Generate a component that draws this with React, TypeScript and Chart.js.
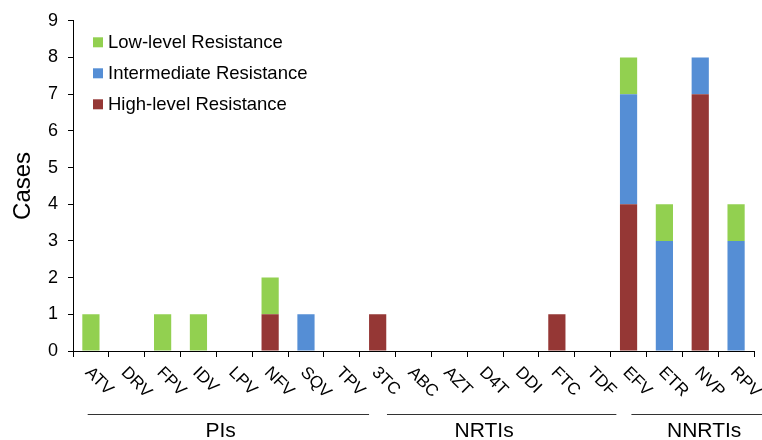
import React, { useEffect, useRef } from 'react';
import { Chart, registerables } from 'chart.js';

Chart.register(...registerables);

const categories = ['ATV', 'DRV', 'FPV', 'IDV', 'LPV', 'NFV', 'SQV', 'TPV', '3TC', 'ABC', 'AZT', 'D4T', 'DDI', 'FTC', 'TDF', 'EFV', 'ETR', 'NVP', 'RPV'];
const highLevel = [0, 0, 0, 0, 0, 1, 0, 0, 1, 0, 0, 0, 0, 1, 0, 4, 0, 7, 0];
const intermediate = [0, 0, 0, 0, 0, 0, 1, 0, 0, 0, 0, 0, 0, 0, 0, 3, 3, 1, 3];
const lowLevel = [1, 0, 1, 1, 0, 1, 0, 0, 0, 0, 0, 0, 0, 0, 0, 1, 1, 0, 1];
const seriesNames = ['High-level Resistance', 'Intermediate Resistance', 'Low-level Resistance'];
const groupNames = ['PIs', 'NRTIs', 'NNRTIs'];

// layout of the group brackets, in (fractional) category-index units
const GROUP_LAYOUT = {
  lineFrom: [-0.09, 8.26, 15.08],
  lineTo: [7.76, 14.66, 18.74],
  labelAt: [3.62, 10.97, 17.11],
};

const COLORS = {
  high: '#953735',
  mid: '#558ED5',
  low: '#92D050',
  axis: '#000000',
};

const FONT = '"Liberation Sans", Arial, Helvetica, sans-serif';

const drawPlugin = {
  id: 'customDecor',
  afterDraw(chart: any) {
    const ctx = chart.ctx as CanvasRenderingContext2D;
    const xs = chart.scales.x;
    const area = chart.chartArea;
    ctx.save();
    // rotated category labels
    ctx.fillStyle = '#000';
    ctx.font = `17px ${FONT}`;
    ctx.textAlign = 'left';
    ctx.textBaseline = 'top';
    categories.forEach((c, i) => {
      const px = xs.getPixelForValue(i);
      ctx.save();
      ctx.translate(px + 3, xs.top + 13);
      ctx.rotate(Math.PI / 4);
      ctx.fillText(c, 0, 0);
      ctx.restore();
    });
    // group lines and labels
    ctx.strokeStyle = '#333';
    ctx.lineWidth = 1;
    const lineY = xs.top + 63;
    groupNames.forEach((g, i) => {
      const x1 = xs.getPixelForValue(GROUP_LAYOUT.lineFrom[i]);
      const x2 = Math.min(chart.width, xs.getPixelForValue(GROUP_LAYOUT.lineTo[i]));
      ctx.beginPath();
      ctx.moveTo(x1, Math.round(lineY) + 0.5);
      ctx.lineTo(x2, Math.round(lineY) + 0.5);
      ctx.stroke();
    });
    ctx.font = `21px ${FONT}`;
    ctx.textAlign = 'center';
    ctx.textBaseline = 'middle';
    groupNames.forEach((g, i) => {
      ctx.fillText(g, xs.getPixelForValue(GROUP_LAYOUT.labelAt[i]), xs.top + 80);
    });
    // legend (top-down: low, intermediate, high)
    const items = [
      { name: seriesNames[2], color: COLORS.low },
      { name: seriesNames[1], color: COLORS.mid },
      { name: seriesNames[0], color: COLORS.high },
    ];
    ctx.font = `18.5px ${FONT}`;
    ctx.textAlign = 'left';
    ctx.textBaseline = 'middle';
    items.forEach((it, i) => {
      const cy = area.top + 21.5 + i * 31;
      ctx.fillStyle = it.color;
      ctx.fillRect(area.left + 20, cy - 5, 10, 10);
      ctx.fillStyle = '#000';
      ctx.fillText(it.name, area.left + 35, cy + 1);
    });
    ctx.restore();
  },
};

export default function App() {
  const ref = useRef<HTMLCanvasElement | null>(null);
  useEffect(() => {
    document.body.style.margin = '0';
    const canvas = ref.current;
    if (!canvas) return;
    const chart = new Chart(canvas, {
      type: 'bar',
      data: {
        labels: categories,
        datasets: [
          { label: seriesNames[0], data: highLevel, backgroundColor: COLORS.high },
          { label: seriesNames[1], data: intermediate, backgroundColor: COLORS.mid },
          { label: seriesNames[2], data: lowLevel, backgroundColor: COLORS.low },
        ],
      },
      options: {
        animation: false,
        responsive: true,
        maintainAspectRatio: false,
        datasets: { bar: { barPercentage: 0.48, categoryPercentage: 1 } },
        layout: { padding: { top: 20, right: 8, left: 0, bottom: 0 } },
        plugins: { legend: { display: false }, tooltip: { enabled: false } },
        scales: {
          x: {
            stacked: true,
            offset: true,
            ticks: { display: false },
            grid: { display: true, drawOnChartArea: false, drawTicks: true, tickLength: 6, color: COLORS.axis, offset: true },
            border: { display: true, color: COLORS.axis, width: 1 },
            afterFit: (s: any) => { s.height = 89; },
          },
          y: {
            stacked: true,
            min: 0,
            max: 9,
            ticks: { stepSize: 1, color: '#000', padding: 10, font: { size: 18, family: FONT } },
            grid: { display: true, drawOnChartArea: false, drawTicks: true, tickLength: 5, color: COLORS.axis },
            border: { display: true, color: COLORS.axis, width: 1 },
            title: { display: true, text: 'Cases', color: '#000', font: { size: 24, family: FONT }, padding: { top: 9, bottom: 0 } },
            afterFit: (s: any) => { s.width = 73; },
          },
        },
      },
      plugins: [drawPlugin],
    });
    return () => chart.destroy();
  }, []);
  return (
    <div style={{ width: 762, height: 440, position: 'relative' }}>
      <canvas ref={ref} />
    </div>
  );
}
